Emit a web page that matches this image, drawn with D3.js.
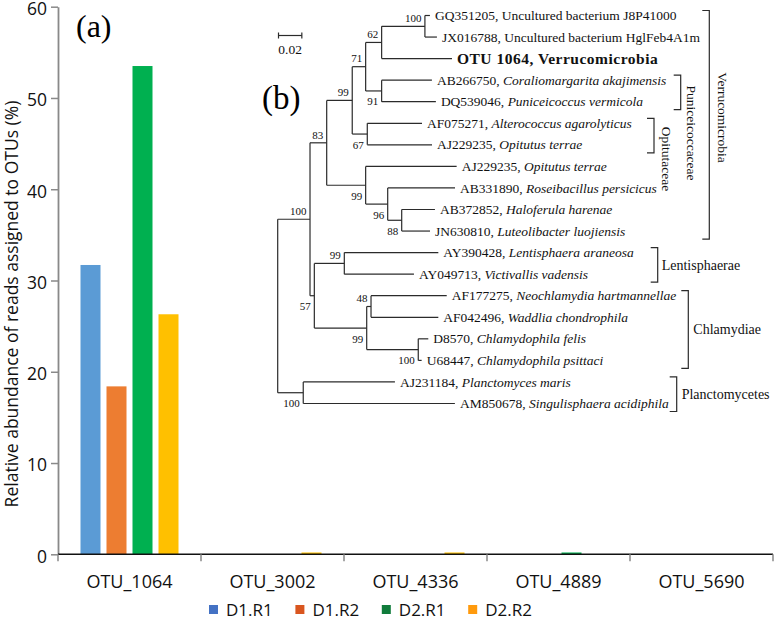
<!DOCTYPE html>
<html><head><meta charset="utf-8">
<script src="https://cdn.jsdelivr.net/npm/d3@7"></script>
<style>body{margin:0;background:#fff}</style>
</head><body>
<svg id="c" width="774" height="617"></svg>
<script>
// ---------------- data ----------------
const categories = ["OTU_1064","OTU_3002","OTU_4336","OTU_4889","OTU_5690"];
const seriesNames = ["D1.R1","D1.R2","D2.R1","D2.R2"];
const D1R1 = [31.7, 0, 0, 0, 0];
const D1R2 = [18.4, 0, 0, 0, 0];
const D2R1 = [53.5, 0, 0, 0.2, 0];
const D2R2 = [26.3, 0.2, 0.2, 0, 0];
const yTicks = [0,10,20,30,40,50,60];
const yTitle = "Relative abundance of reads assigned to OTUs (%)";

// phylogenetic tree: [id, parent, branch length, bootstrap]
const treeNodes = [
 ["root","",0,null],
 ["n100m","root",0.0277,100],
 ["n83","n100m",0.0143,83],
 ["n99u","n83",0.0219,99],
 ["n71","n99u",0.0115,71],
 ["n62","n71",0.0137,62],
 ["n100a","n62",0.0371,100],
 ["L1","n100a",0.0043,null],
 ["L2","n100a",0.0103,null],
 ["L3","n62",0.0603,null],
 ["n91","n71",0.0137,91],
 ["L4","n91",0.0431,null],
 ["L5","n91",0.0465,null],
 ["n67","n99u",0.0129,67],
 ["L6","n67",0.0469,null],
 ["L7","n67",0.0555,null],
 ["n99b","n83",0.0334,99],
 ["L8","n99b",0.0780,null],
 ["n96","n99b",0.0189,96],
 ["L9","n96",0.0577,null],
 ["n88","n96",0.0120,88],
 ["L10","n88",0.0285,null],
 ["L11","n88",0.0243,null],
 ["n57","n100m",0.0037,57],
 ["n99c","n57",0.0257,99],
 ["L12","n99c",0.0806,null],
 ["L13","n99c",0.0597,null],
 ["n99d","n57",0.0449,99],
 ["n48","n99d",0.0037,48],
 ["L14","n48",0.0649,null],
 ["L15","n48",0.0577,null],
 ["n100c","n99d",0.0442,100],
 ["L16","n100c",0.0086,null],
 ["L17","n100c",0.0029,null],
 ["np","root",0.0219,100],
 ["L18","np",0.0786,null],
 ["L19","np",0.1300,null]
];
const leafAcc = ["GQ351205","JX016788","OTU 1064","AB266750","DQ539046","AF075271","AJ229235","AJ229235","AB331890","AB372852","JN630810","AY390428","AY049713","AF177275","AF042496","D8570","U68447","AJ231184","AM850678"];
const leafName = ["Uncultured bacterium J8P41000","Uncultured bacterium HglFeb4A1m","Verrucomicrobia","Coraliomargarita akajimensis","Puniceicoccus vermicola","Alterococcus agarolyticus","Opitutus terrae","Opitutus terrae","Roseibacillus persicicus","Haloferula harenae","Luteolibacter luojiensis","Lentisphaera araneosa","Victivallis vadensis","Neochlamydia hartmannellae","Waddlia chondrophila","Chlamydophila felis","Chlamydophila psittaci","Planctomyces maris","Singulisphaera acidiphila"];
const leafKind = ["plain","plain","bold","italic","italic","italic","italic","italic","italic","italic","italic","italic","italic","italic","italic","italic","italic","italic","italic"];
const cladeNames = ["Verrucomicrobia","Puniceicoccaceae","Opitutaceae","Lentisphaerae","Chlamydiae","Planctomycetes"];
const cladeFirst = [0,3,5,11,13,17];
const cladeLast  = [10,4,6,12,16,18];
const scaleBarValue = 0.02;

// ---------------- layout / style ----------------
const W = 774, H = 617;
const barColors = ["#5B9BD5","#ED7D31","#00B050","#FFC000"];
const legendColors = ["#4472C4","#D9561F","#107C3B","#FF9A0D"];
const sans = "'Open Sans', 'Noto Sans', sans-serif";
const serif = "'Liberation Serif', 'Times New Roman', serif";
const cladeLayout = [
  {bx:709.3, lx:723, ly:117.5, rot:true},
  {bx:680.7, lx:691.7, ly:133, rot:true},
  {bx:654, lx:666.7, ly:159, rot:true},
  {bx:657.7, lx:661.7, rot:false},
  {bx:688.3, lx:693.3, rot:false},
  {bx:676.7, lx:681.7, rot:false}
];

const svg = d3.select("#c");
svg.append("rect").attr("width",W).attr("height",H).attr("fill","#fff");

// ---------------- bar chart ----------------
const x = d3.scaleBand().domain(categories).range([58, 773]);
const x1 = d3.scaleBand().domain(seriesNames).range([0, x.bandwidth()])
  .paddingInner(6/26).paddingOuter(0.8654);
const y = d3.scaleLinear().domain([0,60]).range([554.3, 6.7]);
const seriesValues = [D1R1, D1R2, D2R1, D2R2];

const barData = [];
categories.forEach((c,i)=>seriesNames.forEach((s,j)=>barData.push({c, s, j, v: seriesValues[j][i]})));
svg.append("g").selectAll("rect").data(barData.filter(d=>d.v>0)).join("rect")
  .attr("x", d=>x(d.c)+x1(d.s))
  .attr("width", x1.bandwidth())
  .attr("y", d=>y(d.v))
  .attr("height", d=>y(0)-y(d.v))
  .attr("fill", d=>barColors[d.j]);

// y axis
const yAxis = svg.append("g").attr("transform","translate(58,0)")
  .call(d3.axisLeft(y).tickValues(yTicks).tickSize(7).tickSizeOuter(0).tickPadding(4));
yAxis.select(".domain").attr("stroke","#898989").attr("stroke-width",1.8);
yAxis.selectAll(".tick line").attr("stroke","#898989").attr("stroke-width",1.5);
yAxis.selectAll(".tick text").attr("font-family",sans).attr("font-size",17.5).attr("fill","#111").attr("dy","0.45em");

// x axis
const gx = svg.append("g");
gx.append("line").attr("x1",58).attr("x2",773).attr("y1",y(0)).attr("y2",y(0))
  .attr("stroke","#111").attr("stroke-width",1.4);
const bounds = categories.map(c=>x(c)).concat([x.range()[1]]);
gx.selectAll("line.tk").data(bounds).join("line").attr("class","tk")
  .attr("x1",d=>d).attr("x2",d=>d).attr("y1",y(0)).attr("y2",y(0)+7)
  .attr("stroke","#898989").attr("stroke-width",1.5);
gx.selectAll("text").data(categories).join("text")
  .attr("x",d=>x(d)+x.bandwidth()/2).attr("y",588)
  .attr("text-anchor","middle").attr("font-family",sans).attr("font-size",18).attr("fill","#111")
  .text(d=>d);

// y title
svg.append("text").attr("transform","translate(18,304) rotate(-90)")
  .attr("text-anchor","middle").attr("font-family",sans).attr("font-size",17.5).attr("fill","#111")
  .text(yTitle);

// legend
const lg = svg.append("g").selectAll("g").data(seriesNames).join("g")
  .attr("transform",(d,i)=>`translate(${209+i*86.4},0)`);
lg.append("rect").attr("x",0).attr("y",605).attr("width",9).attr("height",9).attr("fill",(d,i)=>legendColors[i]);
lg.append("text").attr("x",17).attr("y",615.5).attr("font-family",sans).attr("font-size",17).attr("fill","#111").text(d=>d);

// panel labels
svg.append("text").attr("x",76).attr("y",36.5).attr("font-family",serif).attr("font-size",32).attr("fill","#000").text("(a)");
svg.append("text").attr("x",262).attr("y",109).attr("font-family",serif).attr("font-size",33).attr("fill","#000").text("(b)");

// ---------------- tree ----------------
const root = d3.stratify().id(d=>d[0]).parentId(d=>d[1] || null)(treeNodes);
const tx = d3.scaleLinear().domain([0, scaleBarValue]).range([277.7, 277.7+23.33]);
const ty = d3.scaleLinear().domain([0, 18]).range([15.5, 403.5]);
root.eachBefore(n=>{ n.dist = n.parent ? n.parent.dist + n.data[2] : 0; });
const leaves = root.leaves();
leaves.forEach((l,i)=>{ l.idx = i; l.yy = ty(i); });
root.eachAfter(n=>{ if(n.children){ n.yy = (n.children[0].yy + n.children[n.children.length-1].yy)/2; } });

const tg = svg.append("g").attr("stroke","#2b2b2b").attr("stroke-width",1.2).attr("fill","none");
root.descendants().forEach(n=>{
  if(n.parent){
    tg.append("line").attr("x1",tx(n.parent.dist)).attr("x2",tx(n.dist)).attr("y1",n.yy).attr("y2",n.yy);
  }
  if(n.children){
    tg.append("line").attr("x1",tx(n.dist)).attr("x2",tx(n.dist))
      .attr("y1",n.children[0].yy).attr("y2",n.children[n.children.length-1].yy);
  }
});
// bootstrap values
root.descendants().filter(n=>n.data[3]!=null).forEach(n=>{
  const first = n.parent && n.parent.children[0]===n;
  svg.append("text").attr("x",tx(n.dist)-3.5).attr("y", first ? n.yy-4.3 : n.yy+14.5)
    .attr("text-anchor","end").attr("font-family",serif).attr("font-size",11).attr("fill","#111")
    .text(n.data[3]);
});
// leaf labels
leaves.forEach((l,i)=>{
  const t = svg.append("text").attr("x",tx(l.dist)+5).attr("y",l.yy).attr("dy","0.34em")
    .attr("font-family",serif).attr("font-size",13.5).attr("fill","#111");
  if(leafKind[i]==="bold"){
    t.attr("font-weight","bold").attr("font-size",15.5).attr("letter-spacing",0.5)
     .text(leafAcc[i]+", "+leafName[i]);
  } else {
    t.append("tspan").text(leafAcc[i]+", ");
    t.append("tspan").attr("font-style", leafKind[i]==="italic" ? "italic" : "normal").text(leafName[i]);
  }
});
// scale bar
const sb = svg.append("g").attr("stroke","#2b2b2b").attr("stroke-width",1.2);
const sbx0 = 278.5, sbw = tx(scaleBarValue)-tx(0), sby = 35.5;
sb.append("line").attr("x1",sbx0).attr("x2",sbx0+sbw).attr("y1",sby).attr("y2",sby);
sb.append("line").attr("x1",sbx0).attr("x2",sbx0).attr("y1",sby-3).attr("y2",sby+3);
sb.append("line").attr("x1",sbx0+sbw).attr("x2",sbx0+sbw).attr("y1",sby-3).attr("y2",sby+3);
svg.append("text").attr("x",sbx0+sbw/2).attr("y",53.5).attr("text-anchor","middle")
  .attr("font-family",serif).attr("font-size",13.5).attr("fill","#111").text(scaleBarValue);

// clade brackets
const cg = svg.append("g").attr("stroke","#2b2b2b").attr("stroke-width",1.2).attr("fill","none");
cladeNames.forEach((name,i)=>{
  const L = cladeLayout[i];
  const top = ty(cladeFirst[i]) - 5, bot = ty(cladeLast[i]) + 8;
  cg.append("path").attr("d",`M${L.bx-7},${top}H${L.bx}V${bot}H${L.bx-7}`);
  if(L.rot){
    svg.append("text").attr("transform",`translate(${L.lx},${L.ly}) rotate(90)`)
      .attr("text-anchor","middle").attr("dy","0.34em")
      .attr("font-family",serif).attr("font-size",13.5).attr("fill","#111").text(name);
  } else {
    svg.append("text").attr("x",L.lx).attr("y",(top+bot)/2).attr("dy","0.34em")
      .attr("font-family",serif).attr("font-size",14).attr("fill","#111").text(name);
  }
});
</script>
</body></html>
